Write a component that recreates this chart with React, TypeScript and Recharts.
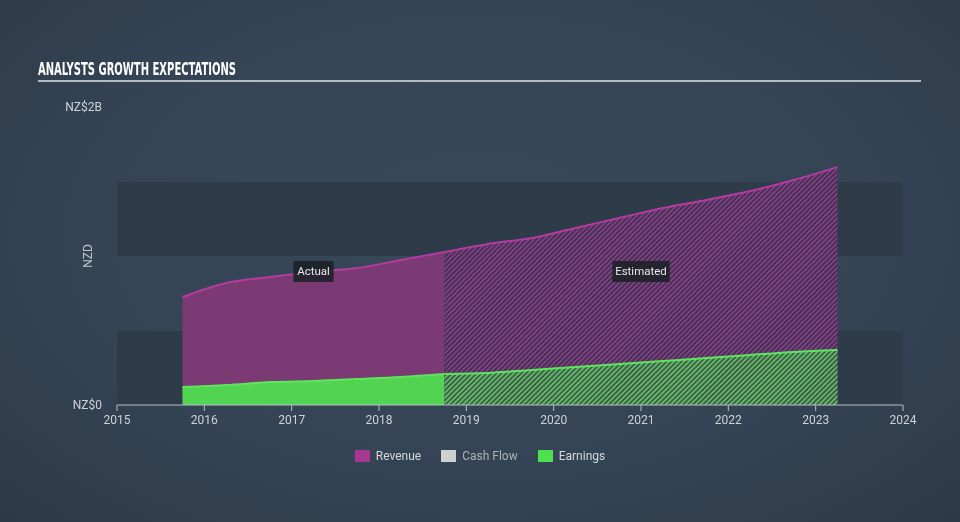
import {
  AreaChart,
  Area,
  XAxis,
  YAxis,
  CartesianGrid,
  Legend,
  ReferenceDot,
} from 'recharts';

// fiscal periods (fractional years), values in NZ$ billions
const periods = [
  2015.75, 2016.25, 2016.75, 2017.25, 2017.75, 2018.25, 2018.75, 2019.25,
  2019.75, 2020.25, 2020.75, 2021.25, 2021.75, 2022.25, 2022.75, 2023.25,
];
const revenue = [
  0.725, 0.819, 0.859, 0.893, 0.919, 0.973, 1.027, 1.081,
  1.121, 1.188, 1.255, 1.322, 1.376, 1.436, 1.51, 1.597,
];
const earnings = [
  0.121, 0.134, 0.154, 0.161, 0.174, 0.188, 0.208, 0.215,
  0.235, 0.255, 0.275, 0.295, 0.315, 0.336, 0.356, 0.369,
];
const lastActual = 2018.75;
const yearTicks = [2015, 2016, 2017, 2018, 2019, 2020, 2021, 2022, 2023, 2024];
const valueTicks = [0, 0.5, 1, 1.5, 2];

const legendItems = [
  { name: 'Revenue', color: '#a8388f', text: '#d3d7dc' },
  { name: 'Cash Flow', color: '#d0d0d0', text: '#a9b0b8' },
  { name: 'Earnings', color: '#4fe04f', text: '#d3d7dc' },
];

const data = periods.map((x, i) => ({
  x,
  revA: x <= lastActual ? revenue[i] : null,
  revE: x >= lastActual ? revenue[i] : null,
  earnA: x <= lastActual ? earnings[i] : null,
  earnE: x >= lastActual ? earnings[i] : null,
}));

const tag = (text: string) => (props: any) => {
  const w = 6 + text.length * 5.7;
  return (
    <g>
      <rect x={props.cx - w / 2} y={props.cy - 10.5} width={w} height={21} fill="#1d2127" fillOpacity={0.88} />
      <text x={props.cx} y={props.cy + 4} textAnchor="middle" fill="#e4e6e8" fontSize={11.5}>
        {text}
      </text>
    </g>
  );
};

const renderLegend = () => (
  <div style={{ display: 'flex', justifyContent: 'center', fontSize: 12 }}>
    {legendItems.map((it) => (
      <div key={it.name} style={{ display: 'flex', alignItems: 'center', margin: '0 10px' }}>
        <span style={{ width: 15, height: 12, background: it.color, marginRight: 6 }} />
        <span style={{ color: it.text }}>{it.name}</span>
      </div>
    ))}
  </div>
);

export default function App() {
  return (
    <div
      style={{
        position: 'fixed',
        left: 0,
        top: 0,
        width: 960,
        height: 522,
        background: 'radial-gradient(ellipse at 50% 45%, #374859 0%, #344455 60%, #2d3946 100%)',
        fontFamily: 'Roboto, sans-serif',
      }}
    >
      <svg width={960} height={100} style={{ position: 'absolute', left: 0, top: 0 }}>
        <text
          x={38}
          y={75}
          fill="#ffffff"
          fontSize={18}
          fontWeight="bold"
          fontFamily="'Liberation Sans Narrow', 'DejaVu Sans Condensed', sans-serif"
          textLength={198}
          lengthAdjust="spacingAndGlyphs"
        >
          ANALYSTS GROWTH EXPECTATIONS
        </text>
        <rect x={38} y={80} width={883} height={2} fill="#b4bbc3" />
      </svg>
      <div style={{ position: 'absolute', left: 0, top: 0 }}>
        <AreaChart width={960} height={522} data={data} margin={{ top: 107, right: 57, bottom: 87, left: 57 }}>
          <defs>
            <pattern id="hatchRev" width="3.5" height="3.5" patternUnits="userSpaceOnUse" patternTransform="rotate(45)">
              <rect width="3.5" height="3.5" fill="#3b3550" />
              <rect width="1.6" height="3.5" fill="#913b8b" />
            </pattern>
            <pattern id="hatchEarn" width="3.5" height="3.5" patternUnits="userSpaceOnUse" patternTransform="rotate(45)">
              <rect width="3.5" height="3.5" fill="#3f5b4d" />
              <rect width="1.6" height="3.5" fill="#64c464" />
            </pattern>
          </defs>
          <CartesianGrid
            vertical={false}
            stroke="none"
            horizontalFill={['transparent', '#2e3b49']}
            fillOpacity={1}
          />
          <XAxis
            dataKey="x"
            type="number"
            domain={[2015, 2024]}
            ticks={yearTicks}
            interval={0}
            axisLine={{ stroke: '#b6bec7' }}
            tickLine={{ stroke: '#b6bec7' }}
            tickSize={6}
            tickMargin={4}
            tick={{ fill: '#cdd2d8', fontSize: 12 }}
          />
          <YAxis
            type="number"
            domain={[0, 2]}
            ticks={valueTicks}
            interval={0}
            width={60}
            axisLine={false}
            tickLine={false}
            tickSize={0}
            tickMargin={15}
            tick={{ fill: '#cdd2d8', fontSize: 12 }}
            tickFormatter={(v: number) => (v === 0 ? 'NZ$0' : v === 2 ? 'NZ$2B' : '')}
            label={{ value: 'NZD', angle: -90, position: 'center', fill: '#bfc5cc', fontSize: 12, dx: 1 }}
          />
          <Area
            dataKey="revA"
            type="monotone"
            stroke="#b53ba0"
            strokeWidth={2}
            fill="#7b3a74"
            fillOpacity={1}
            dot={false}
            activeDot={false}
            isAnimationActive={false}
          />
          <Area
            dataKey="revE"
            type="monotone"
            stroke="#b53ba0"
            strokeWidth={2}
            fill="url(#hatchRev)"
            fillOpacity={1}
            dot={false}
            activeDot={false}
            isAnimationActive={false}
          />
          <Area
            dataKey="earnA"
            type="monotone"
            stroke="#5be65b"
            strokeWidth={2}
            fill="#52d452"
            fillOpacity={1}
            dot={false}
            activeDot={false}
            isAnimationActive={false}
          />
          <Area
            dataKey="earnE"
            type="monotone"
            stroke="#5be65b"
            strokeWidth={2}
            fill="url(#hatchEarn)"
            fillOpacity={1}
            dot={false}
            activeDot={false}
            isAnimationActive={false}
          />
          <ReferenceDot x={2017.25} y={0.896} r={1} shape={tag('Actual')} />
          <ReferenceDot x={2021} y={0.896} r={1} shape={tag('Estimated')} />
          <Legend
            layout="horizontal"
            verticalAlign="middle"
            align="center"
            content={renderLegend}
            wrapperStyle={{ top: 449, left: 0, width: 960 }}
          />
        </AreaChart>
      </div>
    </div>
  );
}
